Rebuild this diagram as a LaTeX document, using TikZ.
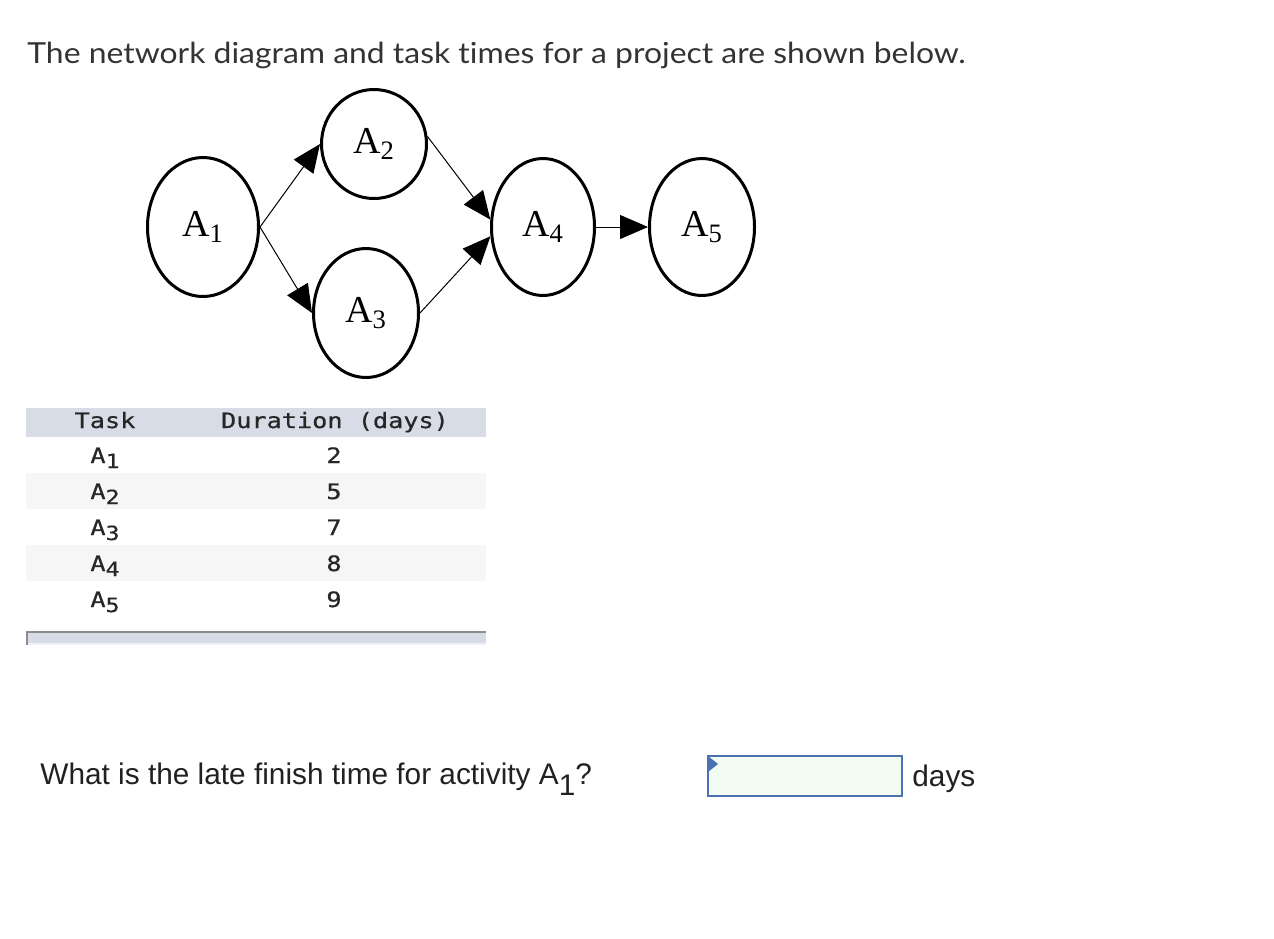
\documentclass[tikz,border=0pt]{standalone}
\usepackage{fontspec}
\setmainfont{Liberation Sans}
\newfontfamily\headfont[FakeStretch=1.1,Ligatures=NoCommon]{Lato}
\newfontfamily\netfont{Liberation Serif}
\newfontfamily\tabfont[FakeStretch=1.19,FakeBold=0.6]{DejaVu Sans Mono}
\usetikzlibrary{arrows.meta,shapes.geometric,positioning}

\definecolor{headgray}{HTML}{D8DCE6}
\definecolor{rowgray}{HTML}{F6F6F6}
\definecolor{paleblue}{HTML}{EEF0FB}
\definecolor{boxblue}{HTML}{4A72B0}
\definecolor{boxgreen}{HTML}{F2FCF2}
\definecolor{inkgray}{HTML}{333333}

\newcommand{\act}[1]{A\textsubscript{#1}}
\newcommand{\tsk}[1]{A\raisebox{-2.5pt}{\scalebox{0.92}{#1}}}

\begin{document}
\begin{tikzpicture}[x=0.5pt,y=-0.5pt,>={Triangle[length=14pt,width=12pt]},
                    act/.style={ellipse,draw,line width=1.5pt,inner sep=0pt,
                      font=\netfont\fontsize{19}{19}\selectfont},
                    edge/.style={->,line width=0.5pt},
                    cell/.style={font=\tabfont\fontsize{10.6}{12}\selectfont,
                      anchor=base,inner sep=0pt,text=black!85}]

  \useasboundingbox (0,0) rectangle (1274,938);

  \node[anchor=base west,inner sep=0pt,text=inkgray,
        font=\headfont\fontsize{14.5}{14.5}\selectfont] (title) at (27,63)
        {The network diagram and task times for a project are shown below.};

  % network
  \node[act,minimum width=55.5pt,minimum height=69.5pt] (A1) at (203,227) {\act{1}};
  \node[act,minimum width=52.5pt,minimum height=54.5pt,on grid,
        above right=41.5pt and 85.5pt of A1] (A2) {\act{2}};
  \node[act,minimum width=52.5pt,minimum height=64.5pt,on grid,
        below right=43pt and 81.5pt of A1] (A3) {\act{3}};
  \node[act,minimum width=51.5pt,minimum height=68.5pt,on grid,
        right=170pt of A1] (A4) {\act{4}};
  \node[act,minimum width=52.5pt,minimum height=68.5pt,on grid,
        right=79.5pt of A4] (A5) {\act{5}};

  \draw[edge] (A1.east) -- (A2.west);
  \draw[edge] (A1.east) -- (A3.west);
  \draw[edge] (A2.8)    -- (A4.172);
  \draw[edge] (A3.east) -- (A4.190);
  \draw[edge] (A4.east) -- (A5.west);

  % table
  \fill[headgray] (26,408) rectangle (486,437);
  \foreach \y in {473,545}
    \fill[rowgray] (26,\y) rectangle (486,\y+36);
  \node[cell] (htask) at (105,428)   {Task};
  \node[cell] (hdur)  at (335,428) {Duration (days)};
  \foreach \d [count=\i] in {2,5,7,8,9} {
    \node[cell] (task\i) at (105,427+36*\i)   {\tsk{\i}};
    \node[cell] (dur\i)  at (334,427+36*\i) {\d};
  }
  \fill[headgray] (26,632) rectangle (486,644);
  \fill[paleblue] (26,643) rectangle (486,645);
  \draw[black!45,line width=1pt] (26.5,645) -- (26.5,632) -- (486,632);

  % question
  \node[anchor=base west,inner sep=0pt,text=black!87,
        font=\fontsize{14.9}{15}\selectfont] (question) at (40,784)
        {What is the late finish time for activity A\raisebox{-5.5pt}{1}?};
  \node[draw=boxblue,fill=boxgreen,line width=1pt,inner sep=0pt,
        minimum width=97pt,minimum height=20pt] (answer) at (805,776) {};
  \fill[boxblue] ([shift={(1,1)}]answer.north west) -- ++(0,16) -- ++(10,-8) -- cycle;
  \node[anchor=base west,inner sep=0pt,text=black!87,
        font=\fontsize{14.9}{15}\selectfont] (unit) at (912,786) {days};
\end{tikzpicture}
\end{document}
